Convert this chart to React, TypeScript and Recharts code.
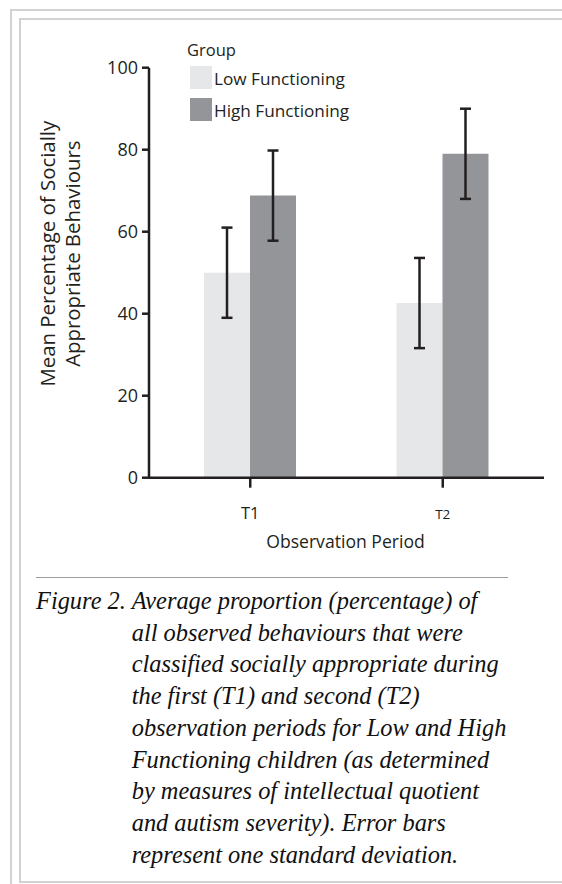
import { Bar, BarChart, ErrorBar, Legend, XAxis, YAxis } from "recharts";

const periods = ["T1", "T2"];
const lowMeans = [50, 42.6];
const highMeans = [68.8, 79];
const lowSd = [11, 11];
const highSd = [11, 11];
const yTicks = [0, 20, 40, 60, 80, 100];

const captionLines = [
  "Average proportion (percentage) of",
  "all observed behaviours that were",
  "classified socially appropriate during",
  "the first (T1) and second (T2)",
  "observation periods for Low and High",
  "Functioning children (as determined",
  "by measures of intellectual quotient",
  "and autism severity). Error bars",
  "represent one standard deviation.",
];

const INK = "#231f20";
const SANS = "'Open Sans', sans-serif";
const SERIF = "'Liberation Serif', serif";

const data = periods.map((period, i) => ({
  period,
  low: lowMeans[i],
  lowSd: lowSd[i],
  high: highMeans[i],
  highSd: highSd[i],
}));

const seriesOrder = ["low", "high"];

function PeriodTick({ x, payload }: any) {
  // the T2 label is set smaller in the original figure
  const small = payload.value === "T2";
  return (
    <text x={x} y={519} textAnchor="middle" fill={INK} fontFamily={SANS} fontSize={small ? 13.5 : 16.5}>
      {payload.value}
    </text>
  );
}

function GroupLegend({ payload }: any) {
  const items = payload ?? [];
  return (
    <div style={{ position: "relative", width: 180, height: 86, fontFamily: SANS, color: INK }}>
      <div style={{ position: "absolute", left: 1, top: 0, lineHeight: "20px", fontSize: 16.5 }}>Group</div>
      {items.map((entry: any, i: number) => (
        <div key={entry.value} style={{ position: "absolute", left: 4, top: 26 + i * 32, height: 24 }}>
          <span
            style={{ position: "absolute", left: 0, top: 0, width: 22, height: 23, background: entry.color }}
          />
          <span
            style={{
              position: "absolute",
              left: 24,
              top: 1,
              lineHeight: "23px",
              fontSize: 17.2,
              whiteSpace: "nowrap",
            }}
          >
            {entry.value}
          </span>
        </div>
      ))}
    </div>
  );
}

function YTitle({ viewBox }: any) {
  const cy = viewBox.y + viewBox.height / 2 - 19;
  const lines = [
    { text: "Mean Percentage of Socially", x: 55 },
    { text: "Appropriate Behaviours", x: 80 },
  ];
  return (
    <g>
      {lines.map((l) => (
        <text
          key={l.text}
          x={l.x}
          y={cy}
          transform={`rotate(-90, ${l.x}, ${cy})`}
          textAnchor="middle"
          fill={INK}
          fontFamily={SANS}
          fontSize={20.4}
        >
          {l.text}
        </text>
      ))}
    </g>
  );
}

function XTitle({ viewBox }: any) {
  return (
    <text
      x={viewBox.x + viewBox.width / 2 - 1}
      y={547.5}
      textAnchor="middle"
      fill={INK}
      fontFamily={SANS}
      fontSize={17.6}
    >
      Observation Period
    </text>
  );
}

export default function App() {
  return (
    <div style={{ position: "absolute", left: 0, top: 0, width: 562, height: 884, background: "#fff", overflow: "hidden" }}>
      <div
        style={{
          position: "absolute",
          left: 10,
          top: 8.5,
          width: 620,
          height: 900,
          borderTop: "2px solid #d2d2d2",
          borderLeft: "2px solid #d2d2d2",
        }}
      />
      <div
        style={{
          position: "absolute",
          left: 19,
          top: 17.5,
          width: 620,
          height: 861,
          borderTop: "2px solid #d2d2d2",
          borderLeft: "2px solid #d2d2d2",
          borderBottom: "2px solid #d2d2d2",
        }}
      />

      <div style={{ position: "absolute", left: 0, top: 0 }}>
        <BarChart
          width={562}
          height={570}
          data={data}
          margin={{ top: 67.7, right: 18, left: 89, bottom: 32.3 }}
          barGap={0}
          barCategoryGap={50}
        >
          <XAxis
            dataKey="period"
            height={60}
            padding={{ left: 5, right: 5 }}
            axisLine={{ stroke: INK, strokeWidth: 2.5 }}
            tickLine={{ stroke: INK, strokeWidth: 2.5 }}
            tickSize={10}
            tick={<PeriodTick />}
            label={<XTitle />}
          />
          <YAxis
            width={60}
            domain={[0, 100]}
            ticks={yTicks}
            interval={0}
            axisLine={{ stroke: INK, strokeWidth: 2.5 }}
            tickLine={{ stroke: INK, strokeWidth: 2.5 }}
            tickSize={7}
            tickMargin={4}
            tick={{ fill: INK, fontFamily: SANS, fontSize: 18 }}
            label={<YTitle />}
          />
          <Legend
            layout="horizontal"
            verticalAlign="middle"
            align="center"
            itemSorter={(item: any) => seriesOrder.indexOf(item.dataKey)}
            content={<GroupLegend />}
            wrapperStyle={{ left: 186, top: 40, width: 200, height: 90 }}
          />
          <Bar dataKey="low" name="Low Functioning" fill="#e6e7e8" isAnimationActive={false}>
            <ErrorBar dataKey="lowSd" direction="y" width={5.5} stroke={INK} strokeWidth={2.5} isAnimationActive={false} />
          </Bar>
          <Bar dataKey="high" name="High Functioning" fill="#939598" isAnimationActive={false}>
            <ErrorBar dataKey="highSd" direction="y" width={5.5} stroke={INK} strokeWidth={2.5} isAnimationActive={false} />
          </Bar>
        </BarChart>
      </div>

      <div style={{ position: "absolute", left: 36, top: 577, width: 472, height: 1, background: "#9d9d9d" }} />

      <div
        style={{
          position: "absolute",
          left: 36,
          top: 585,
          fontFamily: SERIF,
          fontStyle: "italic",
          fontSize: 24.4,
          lineHeight: "31.7px",
          color: "#111",
          whiteSpace: "nowrap",
        }}
      >
        Figure 2.
      </div>
      <div
        style={{
          position: "absolute",
          left: 131.7,
          top: 585,
          fontFamily: SERIF,
          fontStyle: "italic",
          fontSize: 24.4,
          lineHeight: "31.7px",
          color: "#111",
        }}
      >
        {captionLines.map((line) => (
          <div key={line} style={{ whiteSpace: "nowrap" }}>
            {line}
          </div>
        ))}
      </div>
    </div>
  );
}
